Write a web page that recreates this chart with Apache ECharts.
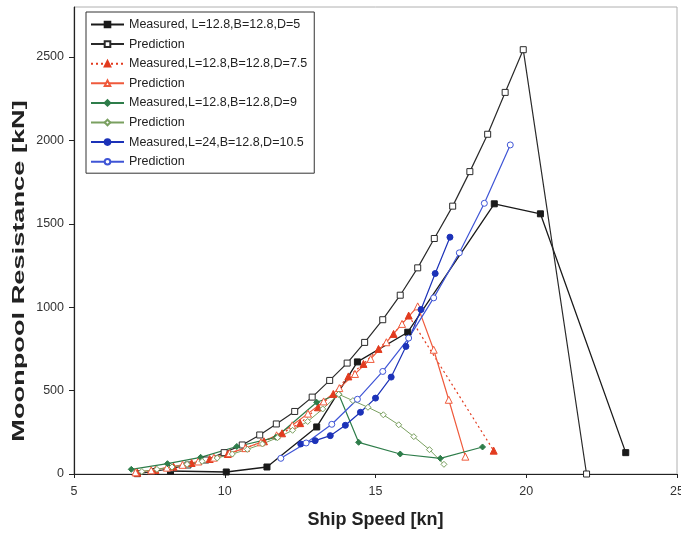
<!DOCTYPE html>
<html>
<head>
<meta charset="utf-8">
<script src="https://cdn.jsdelivr.net/npm/echarts@6/dist/echarts.min.js"></script>
<style>
  html, body { margin: 0; padding: 0; background: #fff; }
  #chart { width: 681px; height: 533px; }
</style>
</head>
<body>
<div id="chart"></div>
<script>
// Moonpool resistance vs ship speed: measured runs and predictions for four moonpool sizes

// L=12.8, B=12.8, D=5
const d5MeasSpeed = [8.2, 10.05, 11.4, 13.05, 14.4, 16.07, 18.94, 20.47, 23.3];
const d5MeasRes   = [18, 12, 42, 282, 672, 850, 1620, 1560, 128];
const d5PredSpeed = [7.1, 7.65, 8.2, 8.78, 9.37, 9.98, 10.58, 11.16, 11.71, 12.32, 12.9, 13.48,
                     14.06, 14.64, 15.24, 15.82, 16.4, 16.95, 17.56, 18.13, 18.72, 19.3, 19.9, 22.0];
const d5PredRes   = [2, 15, 32, 54, 84, 128, 174, 234, 300, 375, 461, 561,
                     665, 789, 925, 1072, 1236, 1412, 1606, 1813, 2037, 2288, 2544, 0];

// L=12.8, B=12.8, D=7.5
const d75MeasSpeed = [7.1, 7.7, 8.3, 8.9, 9.5, 10.1, 10.7, 11.3, 11.9, 12.5, 13.1, 13.6,
                      14.1, 14.6, 15.1, 15.6, 16.1, 18.92];
const d75MeasRes   = [8, 24, 44, 66, 90, 120, 156, 196, 244, 305, 400, 480,
                      585, 660, 750, 840, 950, 140];
const d75PredSpeed = [7.04, 7.56, 8.08, 8.6, 9.12, 9.64, 10.16, 10.68, 11.2, 11.72, 12.24, 12.76,
                      13.28, 13.8, 14.32, 14.84, 15.36, 15.88, 16.4, 16.93, 17.43, 17.98];
const d75PredRes   = [10, 22, 38, 55, 75, 98, 125, 155, 190, 232, 292, 362,
                      435, 515, 600, 690, 790, 900, 1005, 745, 445, 104];

// L=12.8, B=12.8, D=9
const d9MeasSpeed = [6.9, 8.1, 9.2, 10.4, 11.7, 13.05, 13.78, 14.44, 15.82, 17.15, 18.55];
const d9MeasRes   = [28, 62, 100, 165, 220, 430, 478, 190, 120, 94, 162];
const d9PredSpeed = [7.25, 7.75, 8.25, 8.75, 9.25, 9.75, 10.25, 10.75, 11.25, 11.75, 12.25, 12.75,
                     13.25, 13.78, 14.25, 14.75, 15.26, 15.77, 16.27, 16.79, 17.27];
const d9PredRes   = [15, 28, 42, 58, 76, 96, 120, 148, 180, 218, 262, 315,
                     390, 478, 440, 400, 355, 295, 224, 146, 58];

// L=24, B=12.8, D=10.5
const d105MeasSpeed = [12.52, 13.0, 13.5, 14.0, 14.5, 15.0, 15.52, 16.01, 16.51, 16.98, 17.47];
const d105MeasRes   = [180, 200, 230, 292, 370, 455, 581, 765, 986, 1202, 1420];
const d105PredSpeed = [11.86, 12.7, 13.55, 14.4, 15.24, 16.1, 16.93, 17.78, 18.61, 19.47];
const d105PredRes   = [94, 186, 298, 448, 615, 815, 1056, 1326, 1623, 1973];

// Axis ticks
const speedTicks = [5, 10, 15, 20, 25];
const resistanceTicks = [0, 500, 1000, 1500, 2000, 2500];

const FONT = 'Liberation Sans, Arial, sans-serif';

function pairs(xs, ys) { return xs.map((x, i) => [x, ys[i]]); }

function lineSeries(name, xs, ys, color, symbol, filled, dashed, width) {
  return {
    name: name,
    type: 'line',
    data: pairs(xs, ys),
    symbol: symbol,
    symbolSize: symbol === 'triangle' ? 7 : 6,
    showSymbol: true,
    animation: false,
    lineStyle: { color: color, width: width || 1.2, type: dashed ? [2, 3] : 'solid' },
    itemStyle: {
      color: filled ? color : '#ffffff',
      borderColor: color,
      borderWidth: 1
    },
    z: 3
  };
}

const chart = echarts.init(document.getElementById('chart'), null, { renderer: 'canvas' });

chart.setOption({
  backgroundColor: '#ffffff',
  animation: false,
  grid: {
    left: 74, right: 4, top: 7, bottom: 59,
    outerBoundsMode: 'none',
    containLabel: false,
    show: true, borderColor: '#b0b0b0', borderWidth: 1, backgroundColor: 'transparent'
  },
  legend: {
    orient: 'vertical',
    left: 86, top: 12,
    padding: [6, 7, 5, 4],
    itemWidth: 33, itemHeight: 7, itemGap: 6.6,
    backgroundColor: '#ffffff',
    borderColor: '#333333', borderWidth: 1,
    textStyle: { fontFamily: FONT, fontSize: 12.5, color: '#222' },
    data: [
      'Measured, L=12.8,B=12.8,D=5', 'Prediction ',
      'Measured,L=12.8,B=12.8,D=7.5', 'Prediction  ',
      'Measured,L=12.8,B=12.8,D=9', 'Prediction   ',
      'Measured,L=24,B=12.8,D=10.5', 'Prediction    '
    ],
    formatter: function (n) { return n.trim(); }
  },
  graphic: [{
    type: 'text',
    x: 20, y: 271,
    rotation: Math.PI / 2,
    scaleX: 1.7, scaleY: 1,
    style: {
      text: 'Moonpool Resistance [kN]',
      font: 'bold 16px ' + FONT,
      fill: '#222',
      align: 'center',
      verticalAlign: 'middle'
    }
  }],
  xAxis: {
    type: 'value',
    min: 5, max: 25, interval: 5,
    name: 'Ship Speed [kn]',
    nameLocation: 'middle',
    nameGap: 37,
    nameTextStyle: { fontFamily: FONT, fontWeight: 'bold', fontSize: 18, color: '#222' },
    axisLine: { show: true, onZero: false, lineStyle: { color: '#222', width: 1.2 } },
    axisTick: { show: true, length: 4, inside: false, lineStyle: { color: '#222' }, customValues: speedTicks },
    axisLabel: { fontFamily: FONT, fontSize: 12.5, color: '#333', margin: 11, customValues: speedTicks },
    splitLine: { show: false }
  },
  yAxis: {
    type: 'value',
    min: 0, max: 2800,
    axisLine: { show: true, onZero: false, lineStyle: { color: '#222', width: 1.2 } },
    axisTick: { show: true, length: 5, inside: false, lineStyle: { color: '#222' }, customValues: resistanceTicks },
    axisLabel: {
      fontFamily: FONT, fontSize: 12.5, color: '#333', margin: 10,
      customValues: resistanceTicks,
      formatter: function (v) { return String(v); }
    },
    splitLine: { show: false }
  },
  series: [
    lineSeries('Measured, L=12.8,B=12.8,D=5', d5MeasSpeed, d5MeasRes, '#1a1a1a', 'rect', true, false, 1.3),
    lineSeries('Prediction ', d5PredSpeed, d5PredRes, '#2a2a2a', 'rect', false, false, 1.2),
    lineSeries('Measured,L=12.8,B=12.8,D=7.5', d75MeasSpeed, d75MeasRes, '#e23b1f', 'triangle', true, true, 1.2),
    lineSeries('Prediction  ', d75PredSpeed, d75PredRes, '#ef5a3c', 'triangle', false, false, 1.2),
    lineSeries('Measured,L=12.8,B=12.8,D=9', d9MeasSpeed, d9MeasRes, '#2e7d4a', 'diamond', true, false, 1.2),
    lineSeries('Prediction   ', d9PredSpeed, d9PredRes, '#7aa060', 'diamond', false, false, 1.0),
    lineSeries('Measured,L=24,B=12.8,D=10.5', d105MeasSpeed, d105MeasRes, '#1c32b8', 'circle', true, false, 1.2),
    lineSeries('Prediction    ', d105PredSpeed, d105PredRes, '#3f55d6', 'circle', false, false, 1.2)
  ]
});
</script>
</body>
</html>
